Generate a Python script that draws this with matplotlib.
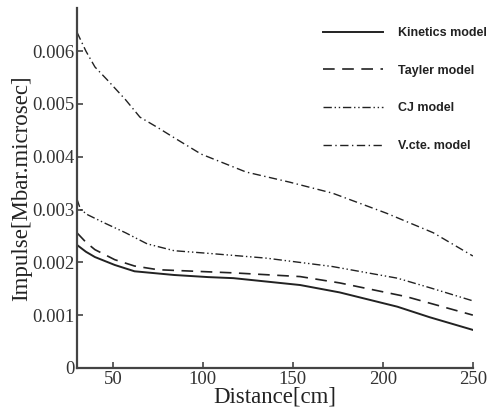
import matplotlib
matplotlib.use("Agg")
import matplotlib.pyplot as plt

# impulse vs distance for the four detonation models
kin_d = [30, 35, 40, 51, 62, 84, 103, 117, 154, 176, 208, 226, 250]
kin_v = [0.00233, 0.0022, 0.0021, 0.00195, 0.00183, 0.00176, 0.00172, 0.0017, 0.00157, 0.00143, 0.00116, 0.00096, 0.00072]

tay_d = [30, 35, 40, 51, 62, 75, 103, 117, 154, 176, 213, 250]
tay_v = [0.00256, 0.00238, 0.00224, 0.00205, 0.00193, 0.00186, 0.00182, 0.0018, 0.00173, 0.00161, 0.00135, 0.00100]

cj_d = [30, 32, 36, 45, 57, 69, 84, 103, 135, 172, 208, 226, 250]
cj_v = [0.0032, 0.0030, 0.0029, 0.00275, 0.00256, 0.00235, 0.00222, 0.00217, 0.00208, 0.00192, 0.0017, 0.00152, 0.00127]

vcte_d = [30, 35, 40, 47, 57, 65, 75, 84, 99, 124, 148, 172, 202, 228, 250]
vcte_v = [0.00636, 0.0060, 0.0057, 0.00545, 0.00508, 0.00475, 0.00455, 0.00436, 0.00405, 0.00371, 0.00352, 0.00331, 0.00293, 0.00256, 0.00212]

labels = ["Kinetics model", "Tayler model", "CJ model", "V.cte. model"]

serif = ["Liberation Serif", "DejaVu Serif"]

fig = plt.figure(figsize=(4.9, 4.12), dpi=100)
ax = fig.add_axes([0.157, 0.107, 0.808, 0.874])

col = "#222222"
ax.plot(kin_d, kin_v, color=col, lw=1.4, ls="-", label=labels[0])
ax.plot(tay_d, tay_v, color=col, lw=1.2, ls=(0, (7, 4.5)), label=labels[1])
ax.plot(cj_d, cj_v, color=col, lw=1.0, ls=(0, (6, 2, 1, 2, 1, 2)), label=labels[2])
ax.plot(vcte_d, vcte_v, color=col, lw=1.0, ls=(0, (6, 2.5, 1, 2.5)), label=labels[3])

ax.set_xlim(30, 250)
ax.set_ylim(0, 0.00682)
ax.set_xticks([50, 100, 150, 200, 250])
ax.set_yticks([0, 0.001, 0.002, 0.003, 0.004, 0.005, 0.006])
ax.set_yticklabels(["0", "0.001", "0.002", "0.003", "0.004", "0.005", "0.006"])

for s in ["top", "right"]:
    ax.spines[s].set_visible(False)
for s in ["left", "bottom"]:
    ax.spines[s].set_color("#444444")
    ax.spines[s].set_linewidth(1.6)

ax.tick_params(direction="in", length=4, width=1.2, color="#444444", pad=2)
for t in ax.get_xticklabels() + ax.get_yticklabels():
    t.set_family(serif)
    t.set_fontsize(13.5)
    t.set_color("#333333")

ax.set_xlabel("Distance[cm]", family=serif, fontsize=16.5, color="#222222", labelpad=-1)
ax.set_ylabel("Impulse[Mbar.microsec]", family=serif, fontsize=16.5, color="#222222", labelpad=0)

leg = ax.legend(loc="upper left", bbox_to_anchor=(323 / 490, 1 - 27 / 412),
                bbox_transform=fig.transFigure, frameon=False,
                prop={"family": ["Liberation Sans", "DejaVu Sans"], "weight": "bold", "size": 9},
                handlelength=4.8, handletextpad=1.2, labelspacing=2.05,
                borderpad=0, borderaxespad=0)
for t in leg.get_texts():
    t.set_color("#222222")

fig.savefig("out.png", dpi=100)
